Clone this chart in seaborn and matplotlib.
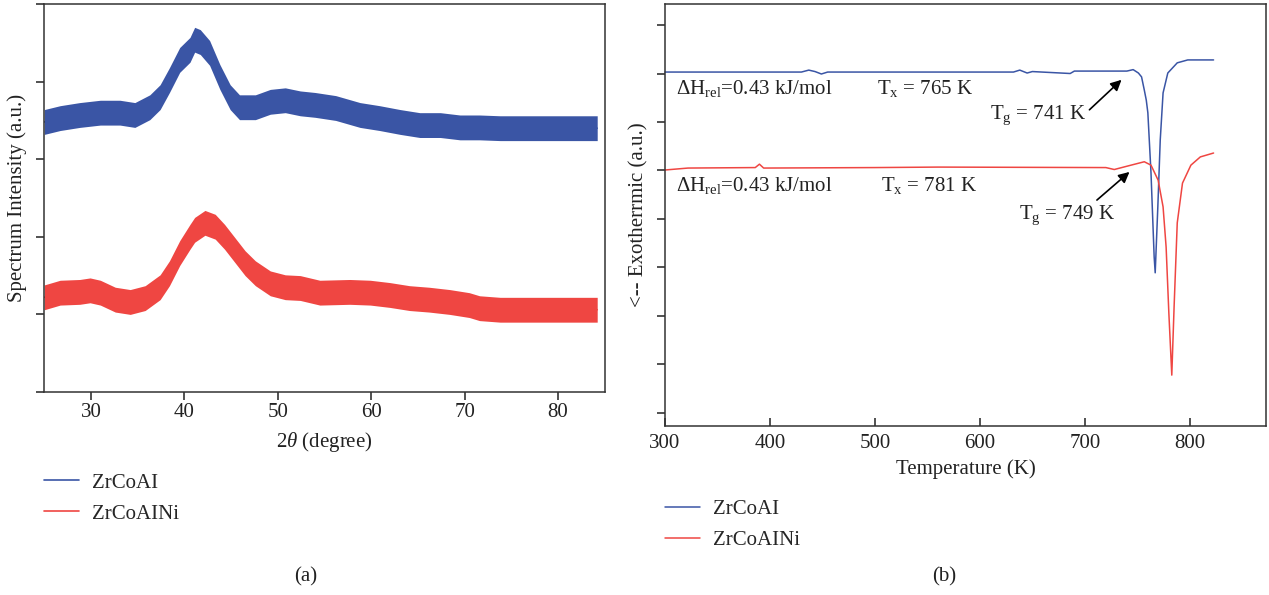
import pandas as pd
import matplotlib.pyplot as plt
import seaborn as sns

# --- (a) XRD patterns: centre of the noisy band ---
xrd_angle_blue = [25.0, 26.7, 28.8, 31.0, 33.1, 34.7, 36.3, 37.4, 38.4, 39.5, 40.6, 41.1,
                  41.7, 42.7, 43.8, 44.9, 45.9, 47.6, 49.2, 50.8, 52.4, 54.0, 56.2, 58.8,
                  60.9, 63.1, 65.2, 67.4, 69.5, 71.6, 73.8, 78.1, 84.2]
xrd_blue = [3.48, 3.53, 3.57, 3.60, 3.60, 3.57, 3.67, 3.80, 4.02, 4.28, 4.41, 4.54,
            4.51, 4.37, 4.06, 3.80, 3.67, 3.67, 3.74, 3.76, 3.72, 3.70, 3.66, 3.57,
            3.53, 3.48, 3.44, 3.44, 3.41, 3.41, 3.40, 3.40, 3.40]
xrd_angle_red = [25.0, 26.7, 28.8, 29.9, 31.0, 32.6, 34.2, 35.8, 37.4, 38.4, 39.5, 40.6,
                 41.1, 42.2, 43.3, 44.3, 45.4, 46.5, 47.6, 49.2, 50.8, 52.4, 54.5, 57.7,
                 59.9, 62.0, 64.1, 66.2, 68.4, 70.5, 71.6, 73.8, 84.2]
xrd_red = [1.22, 1.28, 1.29, 1.31, 1.28, 1.19, 1.16, 1.21, 1.35, 1.53, 1.79, 2.00,
           2.09, 2.18, 2.13, 2.00, 1.83, 1.66, 1.53, 1.40, 1.35, 1.34, 1.28, 1.29,
           1.28, 1.25, 1.21, 1.19, 1.16, 1.12, 1.08, 1.06, 1.06]
# half height of the noise band (same units as the intensity)
xrd_noise = [0.16, 0.16]

# --- (b) DSC curves ---
dsc_temp_blue = [300, 430, 437, 443, 449, 455, 632, 638, 645, 650, 686, 690, 740, 746,
                 751, 754, 756.6, 758.5, 760, 763, 766, 767, 769.5, 771.8, 774.5, 779,
                 788, 798, 822.6]
dsc_blue = [7.03, 7.03, 7.07, 7.04, 6.99, 7.03, 7.03, 7.07, 7.01, 7.04, 7.00, 7.05, 7.05,
            7.08, 7.01, 6.93, 6.66, 6.45, 6.19, 4.95, 3.22, 2.89, 4.25, 5.63, 6.60, 7.01,
            7.22, 7.28, 7.28]
dsc_temp_red = [300, 322, 386, 390, 394, 500, 560, 720, 728, 744, 756.6, 763, 769.8,
                774.5, 777.4, 780, 782.8, 785, 788, 793, 801, 810, 822.6]
dsc_red = [5.01, 5.05, 5.06, 5.13, 5.05, 5.06, 5.07, 5.06, 5.02, 5.11, 5.18, 5.11, 4.80,
           4.25, 3.42, 2.06, 0.78, 2.19, 3.92, 4.74, 5.11, 5.28, 5.36]

names = ['ZrCoAI', 'ZrCoAINi']
colors = ['#3a55a5', '#ef4642']
xrd_ticks = [30, 40, 50, 60, 70, 80]
dsc_ticks = [300, 400, 500, 600, 700, 800]

sns.set_theme(style='ticks')
plt.rcParams['font.family'] = ['Liberation Serif', 'DejaVu Serif']
plt.rcParams['mathtext.fontset'] = 'custom'
plt.rcParams['mathtext.rm'] = 'Liberation Serif'
plt.rcParams['mathtext.it'] = 'Liberation Serif:italic'
ink = '#222222'
fs = 15

fig = plt.figure(figsize=(12.69, 5.95), dpi=100)
ax1 = fig.add_axes([0.0349, 0.3412, 0.4416, 0.652])
ax2 = fig.add_axes([0.524, 0.284, 0.4736, 0.709])

# (a)
xrd = [(xrd_angle_blue, xrd_blue), (xrd_angle_red, xrd_red)]
for (xa, ya), name, c, w in zip(xrd, names, colors, xrd_noise):
    df = pd.DataFrame({'angle': xa, 'intensity': ya})
    ax1.fill_between(df['angle'], df['intensity'] - w, df['intensity'] + w,
                     color=c, lw=0)
    sns.lineplot(data=df, x='angle', y='intensity', ax=ax1, color=c, lw=1.2, label=name)

ax1.set_xlim(25, 85)
ax1.set_ylim(0, 5)
ax1.set_xticks(xrd_ticks)
ax1.set_yticks(range(6))
ax1.set_yticklabels([])
ax1.set_xlabel(r'2$\theta$ (degree)', fontsize=fs, color=ink)
ax1.set_ylabel('Spectrum Intensity (a.u.)', fontsize=fs, color=ink)
ax1.xaxis.set_label_coords(0.5, -0.098)
ax1.yaxis.set_label_coords(-0.031, 0.5)
ax1.tick_params(direction='out', length=6, width=1.1, colors=ink, labelsize=fs, pad=2)
ax1.legend(loc='upper left', bbox_to_anchor=(0.0347, 0.205), bbox_transform=fig.transFigure,
           frameon=False, fontsize=fs, handlelength=1.7, handletextpad=0.6,
           borderpad=0, borderaxespad=0, labelspacing=0.55)

# (b)
dsc = [(dsc_temp_blue, dsc_blue), (dsc_temp_red, dsc_red)]
for (xt, yt), name, c in zip(dsc, names, colors):
    df = pd.DataFrame({'T': xt, 'flow': yt})
    sns.lineplot(data=df, x='T', y='flow', ax=ax2, color=c, lw=1.1, label=name)
for ln in ax2.get_lines():
    ln.set_clip_on(False)

ax2.set_xlim(305.5, 872.5)
ax2.set_ylim(-0.27, 8.43)
ax2.set_xticks(dsc_ticks)
ax2.set_yticks(range(9))
ax2.set_yticklabels([])
ax2.set_xlabel('Temperature (K)', fontsize=fs, color=ink)
ax2.set_ylabel('<-- Exotherrmic (a.u.)', fontsize=fs, color=ink)
ax2.xaxis.set_label_coords(0.5, -0.078)
ax2.yaxis.set_label_coords(-0.027, 0.5)
ax2.tick_params(axis='y', direction='out', length=6, width=1.1, colors=ink)
ax2.tick_params(axis='x', direction='in', length=6, width=1.1, colors=ink,
                labelsize=fs, pad=6)
ax2.legend(loc='upper left', bbox_to_anchor=(0.524, 0.160), bbox_transform=fig.transFigure,
           frameon=False, fontsize=fs, handlelength=1.7, handletextpad=0.6,
           borderpad=0, borderaxespad=0, labelspacing=0.55)

dh = r'ΔH$_\mathrm{rel}$=0.43 kJ/mol'
ax2.text(310.4, 6.70, dh, fontsize=fs, color=ink, va='center')
ax2.text(310.4, 4.70, dh, fontsize=fs, color=ink, va='center')
ax2.text(501.9, 6.70, r'T$_\mathrm{x}$ = 765 K', fontsize=fs, color=ink, va='center')
ax2.text(505.7, 4.70, r'T$_\mathrm{x}$ = 781 K', fontsize=fs, color=ink, va='center')
ax2.annotate(r'T$_\mathrm{g}$ = 741 K', xy=(734.9, 6.87), xytext=(609.4, 6.14),
             fontsize=fs, color=ink, va='center',
             arrowprops=dict(arrowstyle='-|>', color='black', lw=1.2,
                             shrinkA=0, shrinkB=0, mutation_scale=16,
                             relpos=(1.0, 0.6)))
ax2.annotate(r'T$_\mathrm{g}$ = 749 K', xy=(742.5, 4.97), xytext=(637.7, 4.08),
             fontsize=fs, color=ink, va='center',
             arrowprops=dict(arrowstyle='-|>', color='black', lw=1.2,
                             shrinkA=0, shrinkB=0, mutation_scale=16,
                             relpos=(0.75, 0.95)))

for ax in (ax1, ax2):
    for sp in ax.spines.values():
        sp.set_visible(True)
        sp.set_color('#333333')
        sp.set_linewidth(1.1)

fig.text(0.241, 0.030, '(a)', fontsize=fs, color=ink, ha='center', va='center')
fig.text(0.744, 0.030, '(b)', fontsize=fs, color=ink, ha='center', va='center')

fig.savefig('out.png', dpi=100)
